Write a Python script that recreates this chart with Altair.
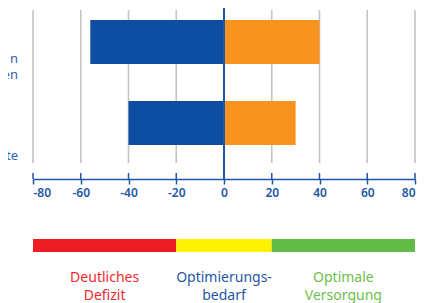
import altair as alt
import pandas as pd

# data
categories = ["Gruppe A", "Gruppe B"]
negative_values = [-56, -40]
positive_values = [40, 30]
tick_values = [-80, -60, -40, -20, 0, 20, 40, 60, 80]
grid_values = [-80, -60, -40, -20, 20, 40, 60, 80]
left_label_last = ["den", "te"]
left_label_prev = ["n", ""]
band_start = [-80, -20, 20]
band_end = [-20, 20, 80]
band_colors = ["#EE1C25", "#FFF200", "#62BB46"]
band_labels = ["Deutliches\nDefizit", "Optimierungs-\nbedarf", "Optimale\nVersorgung"]
band_label_pos = [-50, 0, 50]
band_label_colors = ["#EE2A2E", "#1F56A6", "#6CBF4B"]

FONT = "Noto Sans"
BLUE = "#1F56A6"
W, H = 382, 171

xscale = alt.Scale(domain=[-80, 80], nice=False, zero=False)
yscale = alt.Scale(domain=categories, range=[12, 137], paddingInner=0.457, paddingOuter=0)

bars = pd.DataFrame({
    "cat": categories * 2,
    "start": [0, 0, 0, 0],
    "end": negative_values + positive_values,
    "kind": ["neg", "neg", "pos", "pos"],
})

grid = alt.Chart(pd.DataFrame({"v": grid_values})).mark_rule(
    color="#c4c4c4", strokeWidth=1.6
).encode(x=alt.X("v:Q", scale=xscale), y=alt.value(2), y2=alt.value(155))

bar_layer = alt.Chart(bars).mark_bar().encode(
    x=alt.X("start:Q", scale=xscale,
            axis=alt.Axis(values=tick_values, grid=False, title=None,
                          domainColor=BLUE, domainWidth=1.5, tickColor=BLUE,
                          tickWidth=1.5, tickSize=5, labelColor=BLUE,
                          labelFont=FONT, labelFontSize=12, labelFontWeight=600,
                          labelPadding=3, labelExpr="'' + datum.value")),
    x2="end:Q",
    y=alt.Y("cat:N", scale=yscale, axis=None),
    color=alt.Color("kind:N", scale=alt.Scale(domain=["neg", "pos"], range=["#0D4EA2", "#F7931E"]), legend=None),
)

zero = alt.Chart(pd.DataFrame({"v": [0]})).mark_rule(color=BLUE, strokeWidth=2).encode(
    x=alt.X("v:Q", scale=xscale), y=alt.value(0), y2=alt.value(H)
)

inner_ticks = alt.Chart(pd.DataFrame({"v": tick_values})).mark_rule(color=BLUE, strokeWidth=1.5).encode(
    x=alt.X("v:Q", scale=xscale), y=alt.value(H - 6), y2=alt.value(H)
)

lab_df = pd.DataFrame({"cat": categories, "last": left_label_last, "prev": left_label_prev})
lab_last = alt.Chart(lab_df).mark_text(
    align="right", baseline="alphabetic", dy=37, font=FONT, fontSize=13, color="#2A62B0"
).encode(x=alt.value(-15), y=alt.Y("cat:N", scale=yscale, axis=None), text="last:N")
lab_prev = alt.Chart(lab_df).mark_text(
    align="right", baseline="alphabetic", dy=21, font=FONT, fontSize=13, color="#2A62B0"
).encode(x=alt.value(-15), y=alt.Y("cat:N", scale=yscale, axis=None), text="prev:N")

band_df = pd.DataFrame({"s": band_start, "e": band_end, "c": band_colors})
band = alt.Chart(band_df).mark_rect().encode(
    x=alt.X("s:Q", scale=xscale), x2="e:Q", y=alt.value(231), y2=alt.value(244),
    color=alt.Color("c:N", scale=None),
)

bl_df = pd.DataFrame({"t": band_labels, "p": band_label_pos, "c": band_label_colors})
band_text = alt.Chart(bl_df).mark_text(
    align="center", baseline="middle", lineBreak="\n", lineHeight=18, font=FONT, fontSize=14
).encode(x=alt.X("p:Q", scale=xscale), y=alt.value(270), text="t:N", color=alt.Color("c:N", scale=None))

chart = alt.layer(grid, bar_layer, zero, inner_ticks, lab_last, lab_prev, band, band_text).properties(
    width=W, height=H,
    autosize=alt.AutoSizeParams(type="none"),
    padding={"left": 25, "top": 0, "right": 12, "bottom": 124},
).configure_view(stroke=None)

chart.save("out.html", embed_options={"renderer": "svg", "actions": False})
